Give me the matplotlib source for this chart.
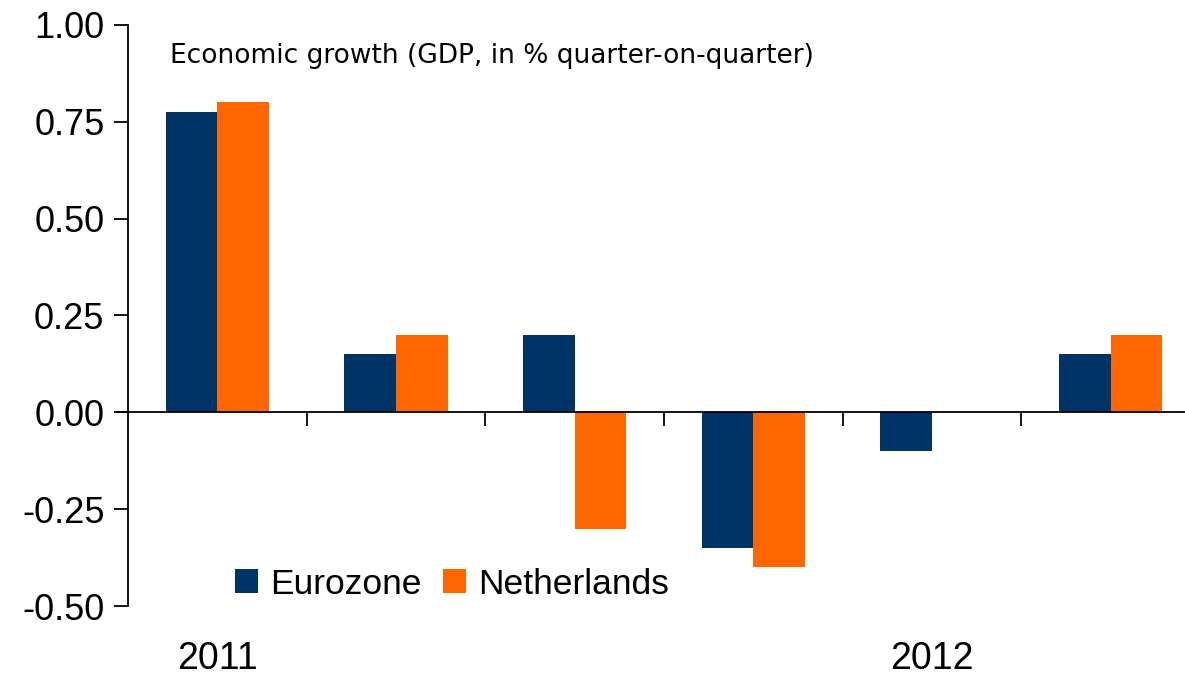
import numpy as np
import matplotlib
matplotlib.use("Agg")
import matplotlib.pyplot as plt

quarters = ["Q1 2011", "Q2 2011", "Q3 2011", "Q4 2011", "Q1 2012", "Q2 2012"]
eurozone = [0.775, 0.15, 0.20, -0.35, -0.10, 0.15]
netherlands = [0.80, 0.20, -0.30, -0.40, 0.0, 0.20]
year_labels = ["2011", "2012"]
year_pos = [0, 4]  # index of quarter the year label sits under
yticks = [-0.50, -0.25, 0.0, 0.25, 0.50, 0.75, 1.00]

navy = "#003366"
orange = "#FF6600"

W, H = 1185, 678
fig = plt.figure(figsize=(W / 100, H / 100), dpi=100, facecolor="white")
left_px, right_px, top_px, bot_px = 118, 1200, 25, 606
ax = fig.add_axes([left_px / W, 1 - bot_px / H, (right_px - left_px) / W, (bot_px - top_px) / H])

n = len(quarters)
x = np.arange(n) + 0.5
bw = 0.29
ax.bar(x - bw / 2, eurozone, bw, color=navy, label="Eurozone", zorder=2)
ax.bar(x + bw / 2, netherlands, bw, color=orange, label="Netherlands", zorder=2)

ax.set_xlim(-10 / 178.5, n)
ax.set_ylim(-0.5, 1.0)

for s in ["top", "right"]:
    ax.spines[s].set_visible(False)
ax.spines["left"].set_position(("data", 0))
ax.spines["bottom"].set_position(("data", 0))
ax.spines["left"].set_linewidth(1.3)
ax.spines["bottom"].set_linewidth(1.3)
ax.spines["bottom"].set_zorder(3)

ax.set_yticks(yticks)
ax.set_yticklabels(["%.2f" % v for v in yticks], fontsize=26, family="Liberation Sans")
ax.tick_params(axis="y", direction="out", length=10, width=1.3, pad=7)

ax.set_xticks(np.arange(1, n))
ax.set_xticklabels([])
ax.tick_params(axis="x", direction="out", length=10, width=1.3)

for lab, i in zip(year_labels, year_pos):
    ax.text(x[i], -0.637, lab, ha="center", va="center", fontsize=27,
            family="Liberation Sans", clip_on=False)

fig.text(170 / W, 1 - 56 / H, "Economic growth (GDP, in % quarter-on-quarter)",
         fontsize=19, family="DejaVu Sans", va="center", ha="left")

fig.legend(loc="center left", bbox_to_anchor=(235 / W, 1 - 584 / H),
           bbox_transform=fig.transFigure, frameon=False, ncol=2,
           prop={"family": "Liberation Sans", "size": 25.5},
           handlelength=0.65, handleheight=0.65, handletextpad=0.35,
           columnspacing=0.6, borderpad=0, borderaxespad=0)

fig.savefig("out.png", dpi=100, facecolor="white")
